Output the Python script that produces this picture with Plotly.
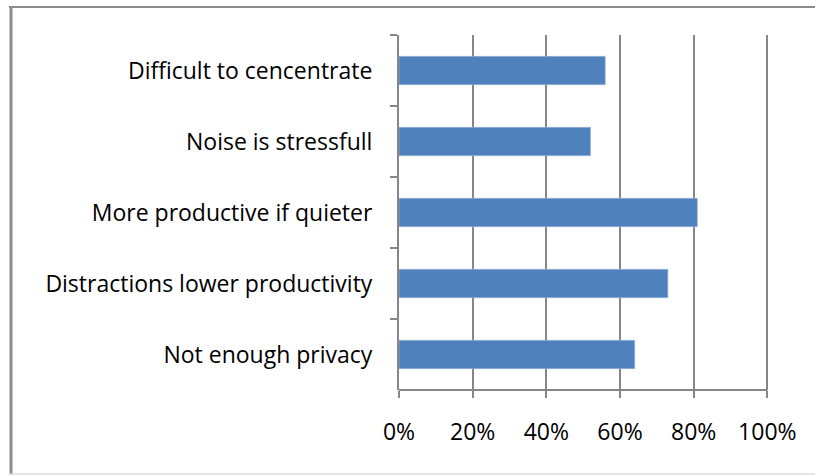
import plotly.graph_objects as go

# Survey statements (top to bottom) and share of respondents agreeing
statements = [
    "Difficult to cencentrate",
    "Noise is stressfull",
    "More productive if quieter",
    "Distractions lower productivity",
    "Not enough privacy",
]
shares = [0.56, 0.52, 0.81, 0.73, 0.64]
x_ticks = [0, 0.2, 0.4, 0.6, 0.8, 1.0]
x_tick_labels = ["0%", "20%", "40%", "60%", "80%", "100%"]

W, H = 815, 475
L, R, T, B = 399, 44, 35, 85
AXIS = "#868686"
FONT = "Open Sans"
FS = 23

fig = go.Figure(
    go.Bar(
        x=shares,
        y=statements,
        orientation="h",
        marker=dict(color="#4F81BD", line=dict(color="#9DB7D9", width=0.6)),
        hoverinfo="x+y",
    )
)

# chart frame edges, given in pixels and converted to paper coordinates
pw, ph = W - L - R, H - T - B
def px_x(p):
    return (p - L) / pw
def px_y(p):
    return (H - B - p) / ph

frame = [
    # (x0, y0, x1, y1, color, width)
    (9, 7, 815, 7, "#8C8C8C", 2),
    (11, 7, 11, 475, "#8C8C8C", 3),
    (9, 474, 815, 474, "#DCDCDC", 1.5),
]
for x0, y0, x1, y1, c, w in frame:
    fig.add_shape(
        type="line", xref="paper", yref="paper",
        x0=px_x(x0), x1=px_x(x1), y0=px_y(y0), y1=px_y(y1),
        line=dict(color=c, width=w), layer="below",
    )

fig.update_layout(
    width=W, height=H,
    margin=dict(l=L, r=R, t=T, b=B, pad=0),
    paper_bgcolor="white", plot_bgcolor="white",
    bargap=0.6,
    showlegend=False,
    font=dict(family=FONT, size=FS, color="black"),
)

# a little headroom past 100% keeps that gridline from being clipped
fig.update_xaxes(
    range=[0, 1.01],
    tickvals=x_ticks, ticktext=x_tick_labels,
    showgrid=True, gridcolor=AXIS, gridwidth=1.5,
    showline=False,
    ticks="outside", ticklen=7, tickcolor=AXIS, tickwidth=1.5,
    ticklabelstandoff=14,
    zeroline=False,
    tickfont=dict(family=FONT, size=FS, color="black"),
)
# value axis baseline, ending at 100%
fig.add_shape(
    type="line", xref="x", yref="paper",
    x0=0, x1=1.0, y0=0, y1=0,
    line=dict(color=AXIS, width=2),
)
fig.update_yaxes(
    categoryorder="array", categoryarray=statements,
    autorange="reversed",
    showgrid=False,
    showline=True, linecolor=AXIS, linewidth=2,
    ticks="outside", ticklen=7, tickcolor=AXIS, tickwidth=1.5,
    tickson="boundaries",
    ticklabelstandoff=20,
    tickfont=dict(family=FONT, size=FS, color="black"),
)

fig.write_html("out.html")
